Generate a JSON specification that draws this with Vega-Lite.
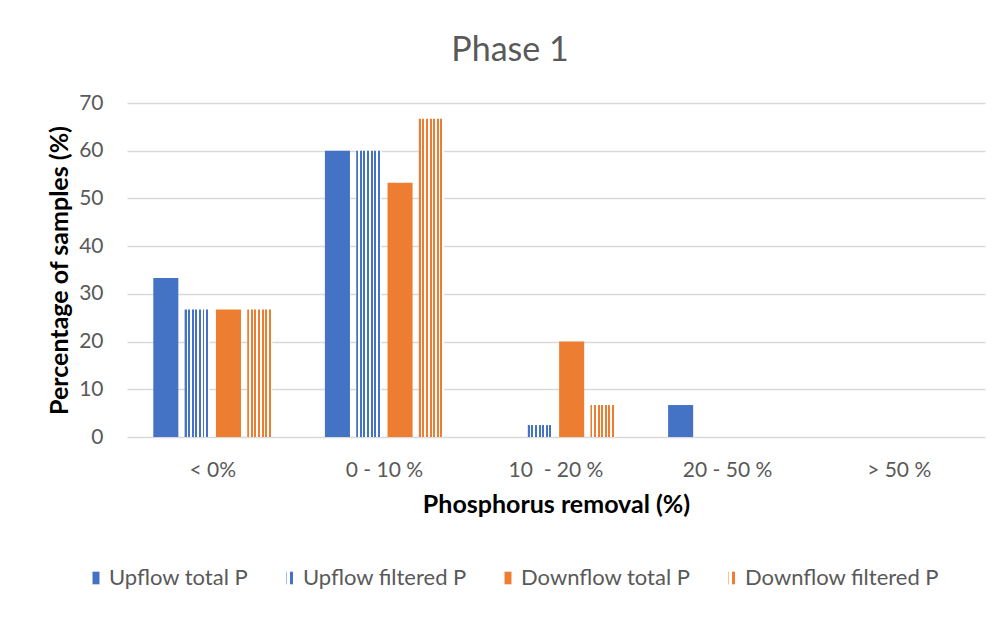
{
  "$schema": "https://vega.github.io/schema/vega-lite/v6.json",
  "autosize": {"type": "none"},
  "width": 858,
  "height": 334,
  "padding": {"left": 127, "top": 103, "right": 21, "bottom": 180},
  "background": "#ffffff",
  "config": {
    "font": "Lato",
    "view": {"stroke": null}
  },
  "title": {
    "text": "Phase 1",
    "anchor": "middle",
    "frame": "group",
    "dx": -46,
    "offset": 24,
    "fontSize": 34,
    "fontWeight": "normal",
    "color": "#595959",
    "font": "Lato"
  },
  "data": {
    "values": [
      {"category": "< 0%", "series": "Upflow total P", "value": 33.3},
      {"category": "< 0%", "series": "Upflow filtered P", "value": 26.7},
      {"category": "< 0%", "series": "Downflow total P", "value": 26.7},
      {"category": "< 0%", "series": "Downflow filtered P", "value": 26.7},
      {"category": "0 - 10 %", "series": "Upflow total P", "value": 60},
      {"category": "0 - 10 %", "series": "Upflow filtered P", "value": 60},
      {"category": "0 - 10 %", "series": "Downflow total P", "value": 53.3},
      {"category": "0 - 10 %", "series": "Downflow filtered P", "value": 66.7},
      {"category": "10\u00a0 - 20 %", "series": "Upflow total P", "value": 0},
      {"category": "10\u00a0 - 20 %", "series": "Upflow filtered P", "value": 2.5},
      {"category": "10\u00a0 - 20 %", "series": "Downflow total P", "value": 20},
      {"category": "10\u00a0 - 20 %", "series": "Downflow filtered P", "value": 6.7},
      {"category": "20 - 50 %", "series": "Upflow total P", "value": 6.7},
      {"category": "20 - 50 %", "series": "Upflow filtered P", "value": 0},
      {"category": "20 - 50 %", "series": "Downflow total P", "value": 0},
      {"category": "20 - 50 %", "series": "Downflow filtered P", "value": 0},
      {"category": "> 50 %", "series": "Upflow total P", "value": 0},
      {"category": "> 50 %", "series": "Upflow filtered P", "value": 0},
      {"category": "> 50 %", "series": "Downflow total P", "value": 0},
      {"category": "> 50 %", "series": "Downflow filtered P", "value": 0}
    ]
  },
  "mark": {"type": "bar"},
  "encoding": {
    "x": {
      "field": "category",
      "type": "nominal",
      "sort": ["< 0%", "0 - 10 %", "10\u00a0 - 20 %", "20 - 50 %", "> 50 %"],
      "scale": {"paddingInner": 0, "paddingOuter": 0},
      "axis": {
        "title": "Phosphorus removal (%)",
        "titleFontSize": 25,
        "titleFontWeight": "bold",
        "titleColor": "#000000",
        "titlePadding": 12,
        "labelAngle": 0,
        "labelFontSize": 21,
        "labelColor": "#595959",
        "labelPadding": 22,
        "ticks": false,
        "domain": false,
        "grid": false
      }
    },
    "xOffset": {
      "field": "series",
      "type": "nominal",
      "sort": ["Upflow total P", "Upflow filtered P", "Downflow total P", "Downflow filtered P"],
      "scale": {"paddingInner": 0.2, "paddingOuter": 0.84}
    },
    "y": {
      "field": "value",
      "type": "quantitative",
      "scale": {"domain": [0, 70], "nice": false},
      "axis": {
        "title": "Percentage of samples (%)",
        "titleFontSize": 25,
        "titleFontWeight": "bold",
        "titleColor": "#000000",
        "titlePadding": 6,
        "values": [0, 10, 20, 30, 40, 50, 60, 70],
        "labelFontSize": 21,
        "labelColor": "#595959",
        "labelPadding": 24,
        "ticks": false,
        "domain": false,
        "grid": true,
        "gridColor": "#d9d9d9",
        "gridWidth": 1.5
      }
    },
    "color": {
      "field": "series",
      "type": "nominal",
      "scale": {
        "domain": ["Upflow total P", "Upflow filtered P", "Downflow total P", "Downflow filtered P"],
        "range": [
          "#4472C4",
          {"expr": "{gradient:'linear',x1:0,y1:0,x2:1,y2:0,stops:[{offset:0,color:'#4472C4'},{offset:0.079,color:'#4472C4'},{offset:0.079,color:'#ffffff'},{offset:0.143,color:'#ffffff'},{offset:0.143,color:'#4472C4'},{offset:0.221,color:'#4472C4'},{offset:0.221,color:'#ffffff'},{offset:0.286,color:'#ffffff'},{offset:0.286,color:'#4472C4'},{offset:0.364,color:'#4472C4'},{offset:0.364,color:'#ffffff'},{offset:0.429,color:'#ffffff'},{offset:0.429,color:'#4472C4'},{offset:0.507,color:'#4472C4'},{offset:0.507,color:'#ffffff'},{offset:0.571,color:'#ffffff'},{offset:0.571,color:'#4472C4'},{offset:0.65,color:'#4472C4'},{offset:0.65,color:'#ffffff'},{offset:0.714,color:'#ffffff'},{offset:0.714,color:'#4472C4'},{offset:0.793,color:'#4472C4'},{offset:0.793,color:'#ffffff'},{offset:0.857,color:'#ffffff'},{offset:0.857,color:'#4472C4'},{offset:0.936,color:'#4472C4'},{offset:0.936,color:'#ffffff'},{offset:1,color:'#ffffff'}]}"},
          "#ED7D31",
          {"expr": "{gradient:'linear',x1:0,y1:0,x2:1,y2:0,stops:[{offset:0,color:'#ED7D31'},{offset:0.079,color:'#ED7D31'},{offset:0.079,color:'#ffffff'},{offset:0.143,color:'#ffffff'},{offset:0.143,color:'#ED7D31'},{offset:0.221,color:'#ED7D31'},{offset:0.221,color:'#ffffff'},{offset:0.286,color:'#ffffff'},{offset:0.286,color:'#ED7D31'},{offset:0.364,color:'#ED7D31'},{offset:0.364,color:'#ffffff'},{offset:0.429,color:'#ffffff'},{offset:0.429,color:'#ED7D31'},{offset:0.507,color:'#ED7D31'},{offset:0.507,color:'#ffffff'},{offset:0.571,color:'#ffffff'},{offset:0.571,color:'#ED7D31'},{offset:0.65,color:'#ED7D31'},{offset:0.65,color:'#ffffff'},{offset:0.714,color:'#ffffff'},{offset:0.714,color:'#ED7D31'},{offset:0.793,color:'#ED7D31'},{offset:0.793,color:'#ffffff'},{offset:0.857,color:'#ffffff'},{offset:0.857,color:'#ED7D31'},{offset:0.936,color:'#ED7D31'},{offset:0.936,color:'#ffffff'},{offset:1,color:'#ffffff'}]}"}
        ]
      },
      "legend": {
        "title": null,
        "orient": "none",
        "direction": "horizontal",
        "legendX": -42,
        "legendY": 464,
        "symbolType": "M-0.55,-1H0.55V1H-0.55Z",
        "symbolSize": 160,
        "symbolStrokeWidth": 0,
        "labelFont": "Lato",
        "labelFontSize": 22,
        "labelColor": "#595959",
        "labelLimit": 400,
        "labelOffset": 2,
        "columnPadding": 30
      }
    }
  }
}
